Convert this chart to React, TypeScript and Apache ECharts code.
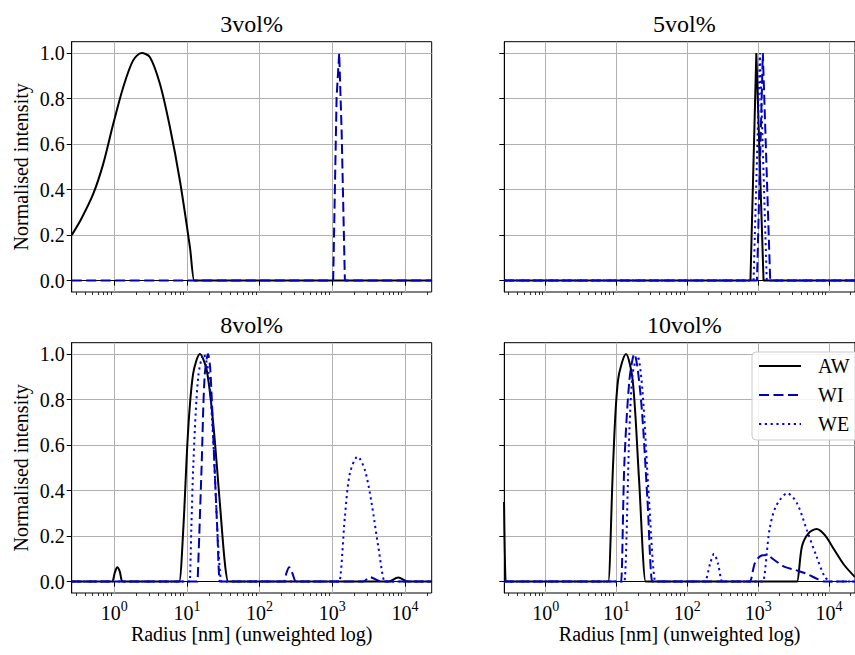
import React, { useEffect, useRef } from "react";
import * as echarts from "echarts";

const panelTitles = ["3vol%", "5vol%", "8vol%", "10vol%"];
const seriesNames = ["AW", "WI", "WE"];
const majorTicks = [1, 10, 100, 1000, 10000];
const minorTicks = [
  0.3, 0.4, 0.5, 0.6, 0.7, 0.8, 0.9,
  2, 3, 4, 5, 6, 7, 8, 9,
  20, 30, 40, 50, 60, 70, 80, 90,
  200, 300, 400, 500, 600, 700, 800, 900,
  2000, 3000, 4000, 5000, 6000, 7000, 8000, 9000,
  20000,
];
const yTicks = [0, 0.2, 0.4, 0.6, 0.8, 1.0];

// 3vol%
const aw3R = [0.26, 0.35, 0.514, 0.706, 0.97, 1.33, 1.82, 2.38, 3.1, 4.25, 5.84, 8.0, 11.0, 12.6, 13.2, 23300];
const aw3I = [0.2, 0.27, 0.381, 0.513, 0.689, 0.85, 0.968, 1.0, 0.982, 0.865, 0.674, 0.44, 0.147, 0, 0, 0];
const wi3R = [0.26, 1028, 1146, 1244, 1343, 1490, 23300];
const wi3I = [0, 0, 0.806, 1.0, 0.66, 0, 0];

// 5vol%
const aw5R = [0.26, 778, 942, 1191, 23300];
const aw5I = [0, 0, 1.0, 0, 0];
const wi5R = [0.26, 962, 1164, 1479, 23300];
const wi5I = [0, 0, 1.0, 0, 0];
const we5R = [0.26, 861, 1059, 1322, 23300];
const we5I = [0, 0, 1.0, 0, 0];

// 8vol%
const aw8R = [0.26, 0.9, 0.94, 1.02, 1.1, 1.19, 1.29, 1.35, 7.5, 7.84, 8.9, 10.4, 12.2, 15.1, 18.7, 23.0, 28.4, 33.3, 37.0, 39.0, 5600, 5870, 8060, 11070, 11600, 23300];
const aw8I = [0, 0, 0, 0.04, 0.063, 0.045, 0, 0, 0, 0, 0.227, 0.666, 0.915, 1.0, 0.93, 0.696, 0.344, 0.08, 0, 0, 0, 0, 0.018, 0, 0, 0];
const wi8R = [0.26, 14.0, 14.3, 15.9, 17.5, 19.5, 21.0, 24.0, 26.0, 28.4, 29.5, 210, 216, 235, 255, 280, 316, 330, 2600, 2660, 3290, 4770, 5000, 23300];
const wi8I = [0, 0, 0, 0.5, 0.9, 1.0, 0.93, 0.5, 0.25, 0, 0, 0, 0, 0.04, 0.063, 0.04, 0, 0, 0, 0, 0.02, 0, 0, 0];
const we8R = [0.26, 11.0, 11.2, 12.2, 14.3, 17.0, 19.8, 23.0, 27.0, 30.0, 31.0, 1200, 1245, 1490, 1745, 2230, 2810, 3475, 4290, 5290, 5500, 23300];
const we8I = [0, 0, 0, 0.5, 0.9, 1.0, 0.92, 0.62, 0.15, 0, 0, 0, 0, 0.285, 0.476, 0.549, 0.49, 0.344, 0.154, 0, 0, 0];

// 10vol%
const aw10R = [0.258, 0.272, 0.28, 7.4, 7.64, 8.95, 10.5, 13.6, 16.9, 20.8, 25.8, 27.0, 3400, 3540, 4150, 5130, 6680, 8700, 11940, 16400, 23300];
const aw10I = [0.35, 0, 0, 0, 0, 0.52, 0.886, 1.0, 0.886, 0.447, 0, 0, 0, 0, 0.154, 0.212, 0.231, 0.205, 0.139, 0.073, 0.02];
const wi10R = [0.26, 11.3, 11.6, 12.9, 15.2, 17.8, 22.0, 27.2, 31.9, 33.0, 740, 764, 895, 1050, 1294, 1690, 2320, 3355, 4610, 7050, 8700, 9000, 23300];
const wi10I = [0, 0, 0, 0.52, 0.886, 1.0, 0.81, 0.37, 0, 0, 0, 0, 0.08, 0.11, 0.117, 0.095, 0.066, 0.051, 0.037, 0.01, 0, 0, 0];
const we10R = [0.26, 12.5, 12.9, 15.2, 16.9, 19.8, 23.2, 28.6, 35.4, 37.0, 172, 177, 210, 238, 270, 310, 320, 1130, 1164, 1443, 1778, 2578, 3540, 4860, 6680, 8700, 10700, 11000, 23300];
const we10I = [0, 0, 0, 0.666, 0.915, 0.99, 0.84, 0.37, 0, 0, 0, 0, 0.08, 0.122, 0.08, 0, 0, 0, 0, 0.227, 0.33, 0.388, 0.344, 0.227, 0.11, 0.022, 0, 0, 0];

const panels = [
  [[aw3R, aw3I], [wi3R, wi3I], null],
  [[aw5R, aw5I], [wi5R, wi5I], [we5R, we5I]],
  [[aw8R, aw8I], [wi8R, wi8I], [we8R, we8I]],
  [[aw10R, aw10I], [wi10R, wi10I], [we10R, we10I]],
];
const smoothFlags = [
  [true, false, false],
  [false, false, false],
  [true, true, true],
  [true, true, true],
];

const FONT = "Liberation Serif";
const XMIN = 0.26;
const XMAX = 23300;
const GRIDS = [
  { left: 71.7, top: 41.7 },
  { left: 504.3, top: 41.7 },
  { left: 71.7, top: 342.7 },
  { left: 504.3, top: 342.7 },
];
const GW = 360;
const GH = 250.3;

const styles = [
  { color: "#000000", type: "solid" as any },
  { color: "#0000b4", type: [10, 4.5] as any },
  { color: "#0000ff", type: [2.2, 3.6] as any },
];

export default function App() {
  const ref = useRef<HTMLDivElement>(null);
  useEffect(() => {
    document.body.style.margin = "0";
    const chart = echarts.init(ref.current!, null, { renderer: "svg" });
    const grid = GRIDS.map((g) => ({
      left: g.left,
      top: g.top,
      width: GW,
      height: GH,
      show: true,
      borderColor: "#000",
      borderWidth: 1,
      backgroundColor: "transparent",
    }));
    const xAxis: any[] = [];
    const yAxis: any[] = [];
    GRIDS.forEach((_, i) => {
      const bottomRow = i >= 2;
      const leftCol = i % 2 === 0;
      xAxis.push({
        type: "log",
        logBase: 10,
        gridIndex: i,
        min: XMIN,
        max: XMAX,
        position: "bottom",
        axisLine: { show: true, lineStyle: { color: "#000", width: 1 } },
        axisTick: { show: true, customValues: majorTicks, length: 5, lineStyle: { color: "#000", width: 1 } },
        axisLabel: {
          show: bottomRow,
          customValues: majorTicks,
          margin: 6,
          formatter: (v: number) => `{b|10}{s|${Math.round(Math.log10(v))}}`,
          rich: {
            b: { fontFamily: FONT, fontSize: 20, color: "#000", lineHeight: 24, verticalAlign: "bottom" },
            s: { fontFamily: FONT, fontSize: 14, color: "#000", lineHeight: 14, verticalAlign: "top" },
          },
        },
        splitLine: { show: true, lineStyle: { color: "#b0b0b0", width: 1 } },
        name: bottomRow ? "Radius [nm] (unweighted log)" : "",
        nameLocation: "middle",
        nameGap: 25,
        nameTextStyle: { fontFamily: FONT, fontSize: 20, color: "#000" },
      });
      yAxis.push({
        type: "value",
        gridIndex: i,
        min: -0.05,
        max: 1.05,
        axisLine: { show: true, lineStyle: { color: "#000", width: 1 } },
        axisTick: { show: true, customValues: yTicks, length: 5, lineStyle: { color: "#000", width: 1 } },
        axisLabel: {
          show: leftCol,
          customValues: yTicks,
          margin: 7,
          formatter: (v: number) => v.toFixed(1),
          fontFamily: FONT,
          fontSize: 20,
          color: "#000",
        },
        splitLine: { show: true, lineStyle: { color: "#b0b0b0", width: 1 } },
        name: leftCol ? "Normalised intensity" : "",
        nameLocation: "middle",
        nameGap: 41,
        nameTextStyle: { fontFamily: FONT, fontSize: 20, color: "#000" },
      });
    });
    GRIDS.forEach((_, i) => {
      xAxis.push({
        type: "log",
        logBase: 10,
        gridIndex: i,
        min: XMIN,
        max: XMAX,
        position: "bottom",
        axisLine: { show: false },
        axisTick: { show: true, customValues: minorTicks, length: 3, lineStyle: { color: "#000", width: 0.8 } },
        axisLabel: { show: false },
        splitLine: { show: false },
      });
    });

    const series: any[] = [];
    panels.forEach((panel, p) => {
      panel.forEach((pair, s) => {
        if (!pair) return;
        const [R, I] = pair as number[][];
        series.push({
          type: "line",
          name: seriesNames[s],
          xAxisIndex: p,
          yAxisIndex: p,
          data: R.map((r, k) => [r, I[k]]),
          showSymbol: false,
          symbol: "none",
          smooth: smoothFlags[p][s] ? 0.3 : false,
          color: styles[s].color,
          lineStyle: { color: styles[s].color, width: 2, type: styles[s].type, cap: "butt" },
          clip: true,
          z: 3 + s,
        });
      });
    });

    const titles = panelTitles.map((t, i) => ({
      type: "text",
      x: GRIDS[i].left + GW / 2,
      y: GRIDS[i].top - 18,
      style: { text: t, align: "center", verticalAlign: "middle", fontFamily: FONT, fontSize: 24, fill: "#000" },
    }));

    chart.setOption({
      animation: false,
      backgroundColor: "#fff",
      grid,
      xAxis,
      yAxis,
      series,
      graphic: titles,
      legend: {
        data: seriesNames,
        orient: "vertical",
        left: 752,
        top: 352,
        itemWidth: 42,
        itemHeight: 14,
        itemGap: 9,
        padding: [4, 40, 6, 6],
        backgroundColor: "rgba(255,255,255,0.85)",
        borderColor: "#cccccc",
        borderWidth: 1,
        borderRadius: 4,
        itemStyle: { opacity: 0 },
        textStyle: { fontFamily: FONT, fontSize: 20, color: "#000", padding: [0, 0, 0, 12] },
      },
    });
    return () => chart.dispose();
  }, []);
  return <div ref={ref} style={{ width: 855, height: 655 }} />;
}
